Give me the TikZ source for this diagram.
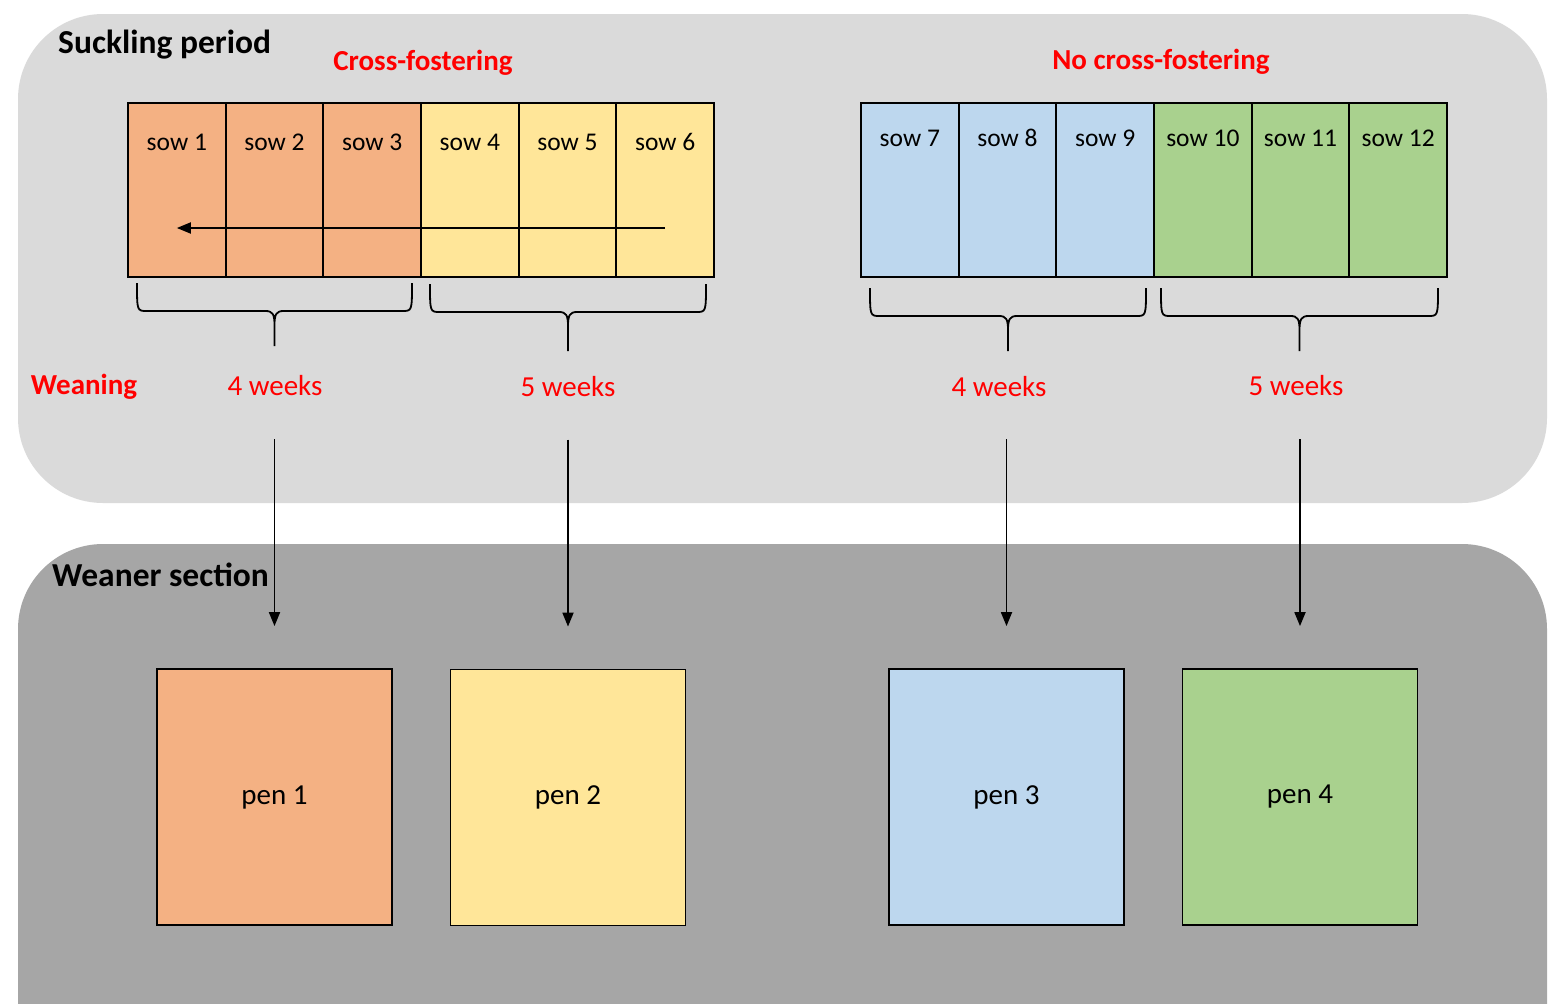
\documentclass[tikz,border=0pt]{standalone}
\usepackage{fontspec}
\setmainfont{Carlito}
\usetikzlibrary{arrows.meta}
\definecolor{sowor}{HTML}{F4B183}
\definecolor{sowye}{HTML}{FFE699}
\definecolor{sowbl}{HTML}{BDD7EE}
\definecolor{sowgr}{HTML}{A9D18E}
\definecolor{panellight}{HTML}{DADADA}
\definecolor{paneldark}{HTML}{A6A6A6}
\tikzset{
  cell/.style={draw, line width=1.8pt, minimum width=97.67pt, minimum height=174pt, inner sep=0},
  penbox/.style={draw, line width=1.8pt, minimum width=235pt, minimum height=256pt, inner sep=0,
    font=\fontsize{29}{34}\selectfont},
  sowtext/.style={inner sep=0, font=\fontsize{25.5}{30}\selectfont},
  heading/.style={inner sep=0, anchor=west, font=\fontsize{33.5}{38}\selectfont\bfseries},
  redhead/.style={inner sep=0, text=red, font=\fontsize{29}{34}\selectfont\bfseries},
  weeks/.style={inner sep=0, text=red, font=\fontsize{29}{34}\selectfont},
  arr/.style={line width=1.8pt, -{Triangle[width=11pt,length=14pt]}},
  braceline/.style={line width=1.8pt, line join=round},
}
% curly brace: left x, right x, top y, tip y
\newcommand{\curly}[4]{%
  \pgfmathsetmacro\xm{(#1+#2)/2}
  \pgfmathsetmacro\ya{#3+28}
  \draw [braceline] (#1,#3) .. controls (#1,\ya) and (#1,\ya) .. (#1+10,\ya)
    -- (\xm-9,\ya) .. controls (\xm-2,\ya) and (\xm,\ya+3) .. (\xm,\ya+14) -- (\xm,#4)
    (\xm,\ya+14) .. controls (\xm,\ya+3) and (\xm+2,\ya) .. (\xm+9,\ya)
    -- (#2-10,\ya) .. controls (#2,\ya) and (#2,\ya) .. (#2,#3);
}

\begin{document}
\begin{tikzpicture}[x=1pt, y=-1pt]
    \clip (0,0) rectangle (1556,1004);

    % the two sections
    \fill [panellight, rounded corners=85pt] (18,14) rectangle (1547,503);
    \fill [paneldark, rounded corners=85pt] (18,544) rectangle (1547,1100);

    % sows
    \foreach \i/\c in {1/sowor,2/sowor,3/sowor,4/sowye,5/sowye,6/sowye} {
      \node [cell, fill=\c] (s\i) at ({128+48.83+97.67*(\i-1)},190) {};
      \node [sowtext] (l\i) at ([yshift=48pt]s\i.center) {sow \i};
    }
    \foreach \i/\c in {7/sowbl,8/sowbl,9/sowbl,10/sowgr,11/sowgr,12/sowgr} {
      \node [cell, fill=\c] (s\i) at ({861+48.83+97.67*(\i-7)},190) {};
      \node [sowtext] (l\i) at ([yshift=52pt]s\i.center) {sow \i};
    }
    \draw [arr] ([yshift=-38pt]s6.center) -- ([yshift=-38pt]s1.center);

    % braces
    \curly{137}{412}{283}{346}
    \curly{430}{706}{284}{351}
    \curly{870}{1146}{288}{351}
    \curly{1161}{1438}{288}{351}

    % pens
    \node [penbox, fill=sowor] (pen1) at (274.5,797) {pen 1};
    \node [penbox, fill=sowye] (pen2) at (568,797.5) {pen 2};
    \node [penbox, fill=sowbl] (pen3) at (1006.5,797) {pen 3};
    \node [penbox, fill=sowgr] (pen4) at (1300,797) {pen 4};

    % add labels
    \node [heading] (suck) at (58,45) {Suckling period};
    \node [heading] (wean) at (52,575) {Weaner section};
    \node [redhead] (cf) at (423,63) {Cross-fostering};
    \node [redhead] (ncf) at (1161,62) {No cross-fostering};
    \node [redhead] (weaning) at (84,387) {Weaning};
    \node [weeks] (w1) at (275,386) {4 weeks};
    \node [weeks] (w2) at (568,387) {5 weeks};
    \node [weeks] (w3) at (999,387) {4 weeks};
    \node [weeks] (w4) at (1296,386) {5 weeks};

    % moves to the weaner section
    \draw [arr] (pen1.north) ++(0,-229) -- ([yshift=42pt]pen1.north);
    \draw [arr] (pen2.north) ++(0,-229) -- ([yshift=42pt]pen2.north);
    \draw [arr] (pen3.north) ++(0,-229) -- ([yshift=42pt]pen3.north);
    \draw [arr] (pen4.north) ++(0,-229) -- ([yshift=42pt]pen4.north);
\end{tikzpicture}
\end{document}
